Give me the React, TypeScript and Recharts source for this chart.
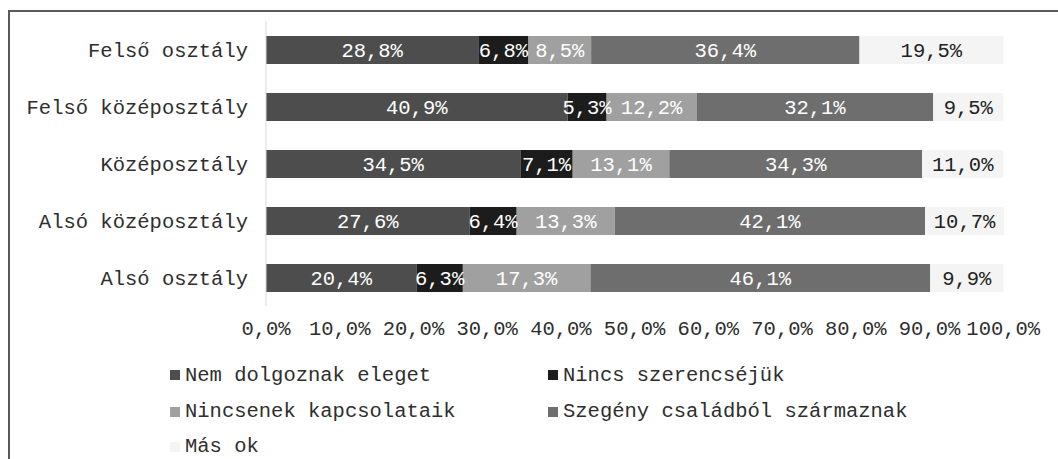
import React from "react";
import { BarChart, Bar, XAxis, YAxis, Legend, LabelList } from "recharts";

const categories = [
  "Felső osztály",
  "Felső középosztály",
  "Középosztály",
  "Alsó középosztály",
  "Alsó osztály",
];

const nemDolgoznak = [28.8, 40.9, 34.5, 27.6, 20.4];
const nincsSzerencse = [6.8, 5.3, 7.1, 6.4, 6.3];
const nincsKapcsolat = [8.5, 12.2, 13.1, 13.3, 17.3];
const szegenyCsalad = [36.4, 32.1, 34.3, 42.1, 46.1];
const masOk = [19.5, 9.5, 11.0, 10.7, 9.9];

const xTicks = [0, 10, 20, 30, 40, 50, 60, 70, 80, 90, 100];

const series = [
  { key: "s1", name: "Nem dolgoznak eleget", values: nemDolgoznak, color: "#4d4d4d", label: "#ffffff" },
  { key: "s2", name: "Nincs szerencséjük", values: nincsSzerencse, color: "#1c1c1c", label: "#ffffff" },
  { key: "s3", name: "Nincsenek kapcsolataik", values: nincsKapcsolat, color: "#a0a0a0", label: "#ffffff" },
  { key: "s4", name: "Szegény családból származnak", values: szegenyCsalad, color: "#6e6e6e", label: "#ffffff" },
  { key: "s5", name: "Más ok", values: masOk, color: "#f4f4f4", label: "#222222" },
];

const data = categories.map((name, i) => {
  const row: any = { name };
  series.forEach((s) => {
    row[s.key] = s.values[i];
  });
  return row;
});

const FONT = "'Liberation Mono', 'DejaVu Sans Mono', monospace";
const FS = 20.5;

const fmt = (v: any) => `${Number(v).toFixed(1).replace(".", ",")}%`;

// two-column legend like the original
const LegendContent = () => (
  <div style={{ display: "flex", flexWrap: "wrap", width: 760, fontFamily: FONT, fontSize: FS, color: "#2e2e2e" }}>
    {series.map((s, i) => (
      <div key={s.key} style={{ width: 378, height: i < 2 ? 38 : 35, display: "flex", alignItems: "center" }}>
        <span style={{ width: 10, height: 10, background: s.color, marginRight: 5, display: "inline-block" }} />
        <span>{s.name}</span>
      </div>
    ))}
  </div>
);

export default function App() {
  return (
    <div style={{ position: "absolute", left: 0, top: 0, width: 1058, height: 459, overflow: "hidden", background: "#fff" }}>
      <div
        style={{
          position: "absolute",
          left: 8,
          top: 10,
          width: 1100,
          height: 500,
          border: "2px solid #5a5a5a",
        }}
      />
      <div style={{ position: "absolute", left: 0, top: 0 }}>
        <BarChart
          width={1058}
          height={459}
          data={data}
          layout="vertical"
          margin={{ top: 21, right: 54, left: 0, bottom: 113 }}
          barSize={28}
        >
          <XAxis
            type="number"
            domain={[0, 100]}
            ticks={xTicks}
            tickFormatter={fmt}
            axisLine={false}
            tickLine={false}
            tickMargin={8}
            height={40}
            interval={0}
            tick={{ fill: "#2e2e2e", fontSize: FS, fontFamily: FONT }}
          />
          <YAxis
            type="category"
            dataKey="name"
            width={266}
            axisLine={{ stroke: "#d9d9d9" }}
            tickLine={false}
            tickMargin={12}
            tick={{ fill: "#2e2e2e", fontSize: FS, fontFamily: FONT }}
          />
          <Legend
            layout="horizontal"
            verticalAlign="middle"
            align="center"
            content={LegendContent}
            wrapperStyle={{ top: 356, left: 170, width: 760 }}
          />
          {series.map((s) => (
            <Bar
              key={s.key}
              dataKey={s.key}
              name={s.name}
              stackId="a"
              fill={s.color}
              isAnimationActive={false}
            >
              <LabelList
                dataKey={s.key}
                position="center"
                formatter={fmt}
                fill={s.label}
                style={{ fontSize: FS, fontFamily: FONT }}
              />
            </Bar>
          ))}
        </BarChart>
      </div>
    </div>
  );
}
